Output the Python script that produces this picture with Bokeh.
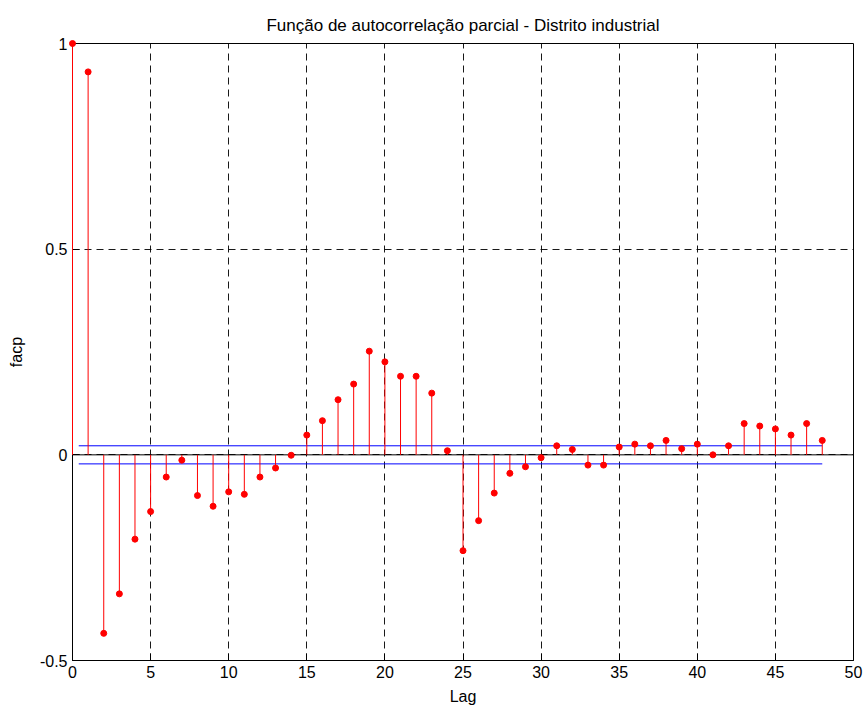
from bokeh.plotting import figure
from bokeh.models import Span, FixedTicker, ColumnDataSource
from bokeh.embed import file_html
from bokeh.resources import INLINE

lags = list(range(0, 49))
pacf = [1.0, 0.931, -0.434, -0.338, -0.205, -0.138, -0.054, -0.013, -0.099, -0.125,
        -0.090, -0.096, -0.054, -0.032, -0.001, 0.048, 0.083, 0.134, 0.172, 0.252,
        0.226, 0.191, 0.191, 0.150, 0.010, -0.233, -0.160, -0.093, -0.045, -0.029,
        -0.007, 0.022, 0.013, -0.025, -0.025, 0.019, 0.026, 0.022, 0.035, 0.015,
        0.026, 0.000, 0.022, 0.076, 0.070, 0.063, 0.048, 0.076, 0.035]
conf_bound = 0.022
bound_lags = [0.4, 48]
x_ticks = list(range(0, 51, 5))
y_ticks = [-0.5, 0, 0.5, 1]
y_tick_labels = {-0.5: "-0.5", 0: "0", 0.5: "0.5", 1: "1"}

FONT = "Liberation Sans"

p = figure(width=864, height=708, output_backend="svg", toolbar_location=None,
           x_range=(0, 50), y_range=(-0.5, 1),
           title="Função de autocorrelação parcial - Distrito industrial",
           min_border_left=72, min_border_right=11, min_border_top=43, min_border_bottom=48)

p.title.align = "center"
p.title.text_font = FONT
p.title.text_font_size = "17px"
p.title.text_font_style = "normal"
p.title.text_color = "black"
p.title.offset = 0
p.title.standoff = 17

p.outline_line_color = "black"
p.outline_line_width = 1
p.outline_line_alpha = 1

for ax in (p.xaxis[0], p.yaxis[0]):
    ax.major_label_text_font = FONT
    ax.major_label_text_font_size = "16px"
    ax.major_label_text_color = "black"
    ax.axis_label_text_font = FONT
    ax.axis_label_text_font_size = "16px"
    ax.axis_label_text_font_style = "normal"
    ax.axis_label_text_color = "black"
    ax.axis_line_color = "black"
    ax.major_tick_line_color = "black"
    ax.major_tick_in = 7
    ax.major_tick_out = 0
    ax.minor_tick_line_color = None
    ax.major_label_standoff = 5

p.xaxis.ticker = FixedTicker(ticks=x_ticks)
p.yaxis.ticker = FixedTicker(ticks=y_ticks)
p.yaxis.major_label_overrides = y_tick_labels
p.xaxis.axis_label = "Lag"
p.yaxis.axis_label = "facp"
p.xaxis.axis_label_standoff = 7
p.yaxis.axis_label_standoff = 12

for g in (p.xgrid[0], p.ygrid[0]):
    g.grid_line_color = "black"
    g.grid_line_dash = "7 5"
    g.grid_line_width = 1
    g.grid_line_alpha = 0.9
p.xgrid.ticker = FixedTicker(ticks=x_ticks)
p.ygrid.ticker = FixedTicker(ticks=y_ticks)

src = ColumnDataSource(dict(lag=lags, val=pacf, base=[0] * len(lags)))

p.add_layout(Span(location=0, dimension="width", line_color="black", line_width=1))

stems = p.segment(x0="lag", y0="base", x1="lag", y1="val", source=src, line_color="red", line_width=1)
stems.level = "overlay"
dots = p.scatter(x="lag", y="val", source=src, size=6, fill_color="red", line_color="red")
dots.level = "overlay"

p.line(x=bound_lags, y=[conf_bound, conf_bound], line_color="blue", line_width=1)
p.line(x=bound_lags, y=[-conf_bound, -conf_bound], line_color="blue", line_width=1)

open("out.html", "w").write(file_html(p, INLINE))
